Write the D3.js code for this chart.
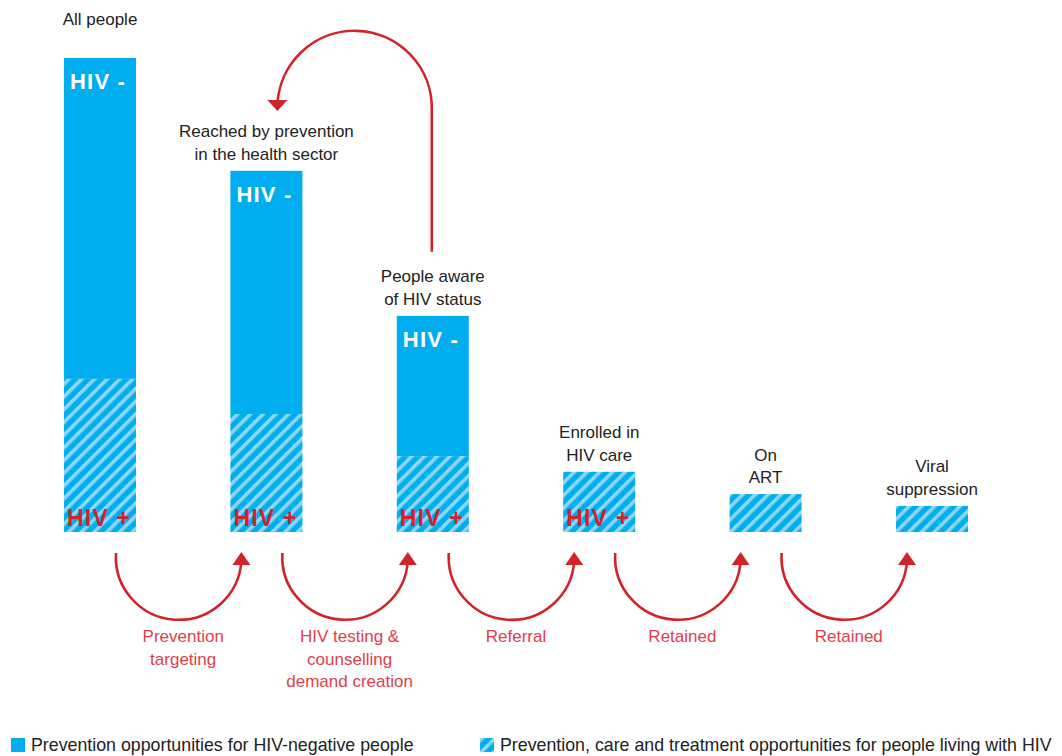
<!DOCTYPE html>
<html>
<head>
<meta charset="utf-8">
<script src="https://cdn.jsdelivr.net/npm/d3@7"></script>
<style>
  body { margin: 0; background: #fff; }
  svg { display: block; font-family: "Liberation Sans", Arial, sans-serif; }
</style>
</head>
<body>
<svg id="chart" width="1062" height="756"></svg>
<script>
// cascade of HIV prevention / care stages

var stages = ["all", "reached", "aware", "enrolled", "art", "viral"];
var stageLabels = [
  ["All people"],
  ["Reached by prevention", "in the health sector"],
  ["People aware", "of HIV status"],
  ["Enrolled in", "HIV care"],
  ["On", "ART"],
  ["Viral", "suppression"]
];
// share of all people (bar height), and the HIV+ part of it
var totalValues = [100, 76.2, 45.6, 12.7, 8.0, 5.5];
var positiveValues = [32.3, 24.9, 16.0, 12.7, 8.0, 5.5];
var showNeg = [true, true, true, false, false, false];
var showPos = [true, true, true, true, false, false];

var steps = [
  ["Prevention", "targeting"],
  ["HIV testing &", "counselling", "demand creation"],
  ["Referral"],
  ["Retained"],
  ["Retained"]
];

var legendItems = [
  {label: "Prevention opportunities for HIV-negative people", hatch: false},
  {label: "Prevention, care and treatment opportunities for people living with HIV", hatch: true}
];

var blue = "#00aeef",
    stripe = "#8cd8f6",
    red = "#d2232a",
    redText = "#e0404c",
    ink = "#222";

var width = 1062, height = 756,
    baseY = 532, topY = 58,
    barW = 72;

var svg = d3.select("#chart");

var x = d3.scalePoint()
    .domain(stages)
    .range([100, 932]);

var y = d3.scaleLinear()
    .domain([0, 100])
    .range([baseY, topY]);

// hatch pattern
var defs = svg.append("defs");
var pat = defs.append("pattern")
    .attr("id", "hatch")
    .attr("patternUnits", "userSpaceOnUse")
    .attr("width", 9)
    .attr("height", 9)
    .attr("patternTransform", "rotate(45)");
pat.append("rect").attr("width", 9).attr("height", 9).attr("fill", blue);
pat.append("rect").attr("x", 0).attr("width", 3.6).attr("height", 9).attr("fill", stripe);

var data = stages.map(function(s, i) {
  return {key: s, total: totalValues[i], pos: positiveValues[i],
          label: stageLabels[i], neg: showNeg[i], plus: showPos[i]};
});

var bars = svg.selectAll("g.stage")
    .data(data)
  .enter().append("g")
    .attr("class", "stage");

bars.append("rect")
    .attr("x", function(d) { return x(d.key) - barW / 2; })
    .attr("y", function(d) { return y(d.total); })
    .attr("width", barW)
    .attr("height", function(d) { return y(d.pos) - y(d.total); })
    .attr("fill", blue);

bars.append("rect")
    .attr("x", function(d) { return x(d.key) - barW / 2; })
    .attr("y", function(d) { return y(d.pos); })
    .attr("width", barW)
    .attr("height", function(d) { return baseY - y(d.pos); })
    .attr("fill", "url(#hatch)");

bars.filter(function(d) { return d.neg; }).append("text")
    .attr("x", function(d) { return x(d.key) - barW / 2 + 6; })
    .attr("y", function(d) { return y(d.total) + 31; })
    .attr("fill", "#fff")
    .attr("font-weight", "bold")
    .attr("font-size", 22)
    .attr("letter-spacing", 1.2)
    .text("HIV -");

bars.filter(function(d) { return d.plus; }).append("text")
    .attr("x", function(d) { return x(d.key) - barW / 2 + 3; })
    .attr("y", baseY - 6)
    .attr("fill", red)
    .attr("font-weight", "bold")
    .attr("font-size", 23)
    .attr("letter-spacing", 1.2)
    .text("HIV +");

// stage labels above bars
bars.append("text")
    .attr("text-anchor", "middle")
    .attr("font-size", 17)
    .attr("fill", ink)
    .attr("transform", function(d) {
      var n = d.label.length;
      var yy = d.key === "all" ? 25 : y(d.total) - 11 - (n - 1) * 22.5;
      return "translate(" + x(d.key) + "," + yy + ")";
    })
    .selectAll("tspan")
    .data(function(d) { return d.label; })
  .enter().append("tspan")
    .attr("x", 0)
    .attr("dy", function(d, i) { return i ? 22.5 : 0; })
    .text(function(d) { return d; });

// bottom step arrows
var arcTop = baseY + 21;
var stepG = svg.selectAll("g.step")
    .data(steps)
  .enter().append("g")
    .attr("class", "step");

stepG.append("path")
    .attr("fill", "none")
    .attr("stroke", red)
    .attr("stroke-width", 2.6)
    .attr("d", function(d, i) {
      var x0 = x(stages[i]) + 16,
          x1 = x(stages[i + 1]) - 25,
          r = (x1 - x0) / 2;
      return "M" + x0 + "," + arcTop + " A" + r + "," + r + " 0 0 0 " + x1 + "," + (arcTop + 8);
    });

stepG.append("path")
    .attr("fill", red)
    .attr("d", function(d, i) {
      var xt = x(stages[i + 1]) - 25;
      return "M" + (xt - 9) + "," + (arcTop + 12) + " L" + xt + "," + (arcTop - 1) +
             " L" + (xt + 9) + "," + (arcTop + 12) + "Z";
    });

stepG.append("text")
    .attr("text-anchor", "middle")
    .attr("font-size", 17)
    .attr("fill", redText)
    .attr("transform", function(d, i) {
      var cx = (x(stages[i]) + x(stages[i + 1])) / 2;
      return "translate(" + cx + "," + (baseY + 110) + ")";
    })
    .selectAll("tspan")
    .data(function(d) { return d; })
  .enter().append("tspan")
    .attr("x", 0)
    .attr("dy", function(d, i) { return i ? 22.5 : 0; })
    .text(function(d) { return d; });

// feedback arrow from "aware" back to "reached"
var fx0 = x("aware") - 1,
    fx1 = x("reached") + 11,
    fr = (fx0 - fx1) / 2,
    fy = 110;
svg.append("path")
    .attr("fill", "none")
    .attr("stroke", red)
    .attr("stroke-width", 2.6)
    .attr("d", "M" + fx0 + "," + (y(totalValues[2]) - 64) + " L" + fx0 + "," + fy +
               " A" + fr + "," + fr + " 0 0 0 " + fx1 + "," + (fy - 4));
svg.append("path")
    .attr("fill", red)
    .attr("d", "M" + (fx1 - 10) + "," + (fy - 10) + " L" + fx1 + "," + (fy + 1) +
               " L" + (fx1 + 10) + "," + (fy - 10) + "Z");

// legend
var legend = svg.selectAll("g.legend")
    .data(legendItems)
  .enter().append("g")
    .attr("class", "legend")
    .attr("transform", function(d, i) { return "translate(" + (i ? 480 : 11) + ",738)"; });

legend.append("rect")
    .attr("width", 14)
    .attr("height", 14)
    .attr("fill", function(d) { return d.hatch ? "url(#hatch)" : blue; });

legend.append("text")
    .attr("x", 20)
    .attr("y", 13)
    .attr("font-size", 17.8)
    .attr("fill", ink)
    .text(function(d) { return d.label; });
</script>
</body>
</html>
